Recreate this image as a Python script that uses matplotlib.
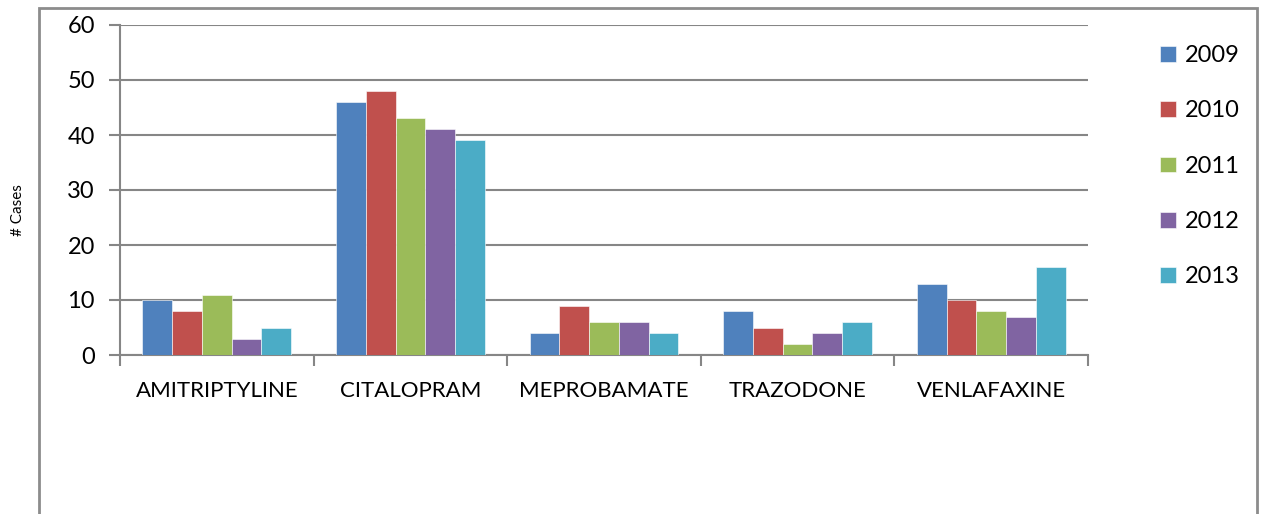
import numpy as np
import matplotlib.pyplot as plt
from matplotlib.patches import Rectangle

# Data
drugs = ['AMITRIPTYLINE', 'CITALOPRAM', 'MEPROBAMATE', 'TRAZODONE', 'VENLAFAXINE']
years = ['2009', '2010', '2011', '2012', '2013']
cases_2009 = [10, 46, 4, 8, 13]
cases_2010 = [8, 48, 9, 5, 10]
cases_2011 = [11, 43, 6, 2, 8]
cases_2012 = [3, 41, 6, 4, 7]
cases_2013 = [5, 39, 4, 6, 16]
series = [cases_2009, cases_2010, cases_2011, cases_2012, cases_2013]
colors = ['#4F81BD', '#C0504D', '#9BBB59', '#8064A2', '#4BACC6']

W, H = 1268, 514
fig = plt.figure(figsize=(W / 100, H / 100), dpi=100)
plt.rcParams['font.family'] = ['Lato', 'DejaVu Sans']

# chart area border (bottom runs off the image)
fig.patches.append(Rectangle((39 / W, -0.05), (1257 - 39) / W, 1.05 - 8 / H,
                             transform=fig.transFigure, fill=False,
                             edgecolor='#8c8c8c', linewidth=2))

ax = fig.add_axes([120 / W, (H - 355) / H, (1088 - 120) / W, (355 - 25) / H])

n = len(years)
bw = 1 / (n + 1.5)
x = np.arange(len(drugs))
for i, (yr, vals) in enumerate(zip(years, series)):
    offs = (i - (n - 1) / 2) * bw
    ax.bar(x + offs, vals, width=bw, color=colors[i], label=yr,
           edgecolor='white', linewidth=0.4, zorder=3)

ax.set_xlim(-0.5, len(drugs) - 0.5)
ax.set_ylim(0, 60)
ax.set_yticks(range(0, 61, 10))
ax.yaxis.grid(True, color='#868686', linewidth=1.5, zorder=0)
ax.set_axisbelow(True)

# category labels between boundary ticks
ax.set_xticks(np.arange(-0.5, len(drugs), 1))
ax.set_xticklabels([])
ax.set_xticks(x, minor=True)
ax.set_xticklabels(drugs, minor=True, fontsize=16)
ax.tick_params(axis='x', which='minor', length=0, pad=19)
ax.tick_params(axis='x', which='major', length=8, width=1.5, color='#868686')
ax.tick_params(axis='y', length=8, width=1.5, color='#868686', labelsize=17, pad=10)

for s in ['top', 'right']:
    ax.spines[s].set_visible(False)
for s in ['left', 'bottom']:
    ax.spines[s].set_color('#868686')
    ax.spines[s].set_linewidth(1.5)

fig.text(18 / W, 1 - 210 / H, '# Cases', rotation=90, fontsize=11,
         ha='center', va='center')

leg = ax.legend(loc='upper left', bbox_to_anchor=(1139 / W, 1 - 24 / H),
                bbox_transform=fig.transFigure, frameon=False, fontsize=17,
                handlelength=0.65, handleheight=0.65, handletextpad=0.4,
                labelspacing=1.45)

fig.savefig('out.png', dpi=100, facecolor='white')
